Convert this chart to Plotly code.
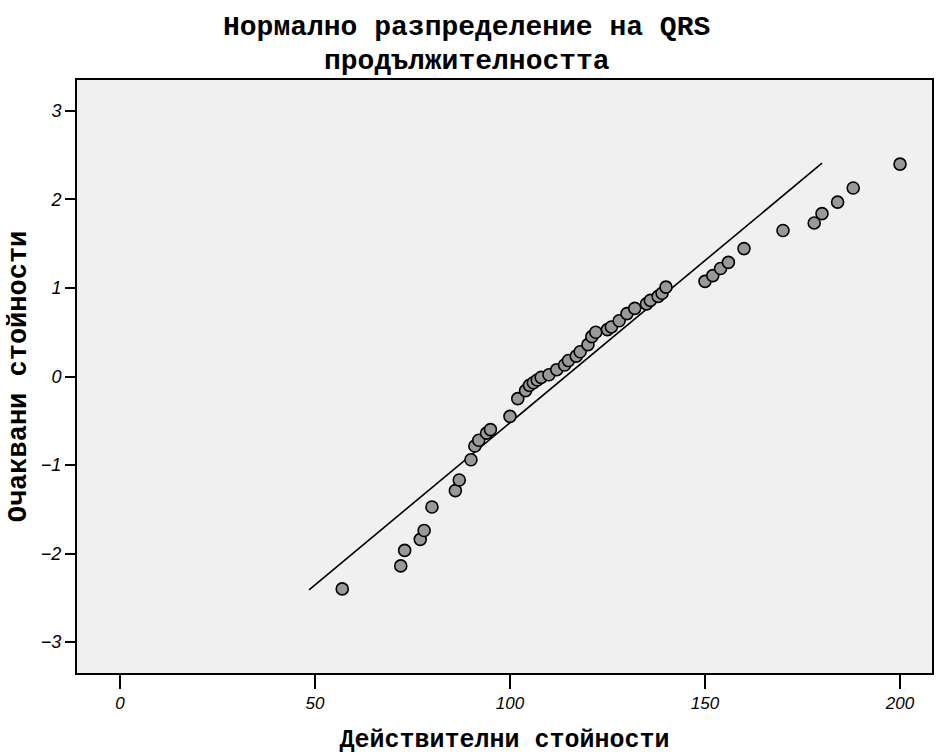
import plotly.graph_objects as go

# Observed QRS durations (x) and expected normal values (y)
observed = [57, 72, 73, 77, 78, 80, 86, 87, 90, 91, 92, 94, 95, 100, 102, 104, 105, 106,
            107, 108, 110, 112, 114, 115, 117, 118, 120, 121, 122, 125, 126, 128, 130, 132,
            135, 136, 138, 139, 140, 150, 152, 154, 156, 160, 170, 178, 180, 184, 188, 200]
expected = [-2.40, -2.14, -1.965, -1.84, -1.74, -1.475, -1.29, -1.17, -0.94, -0.785, -0.72,
            -0.64, -0.60, -0.45, -0.25, -0.16, -0.10, -0.07, -0.04, -0.01, 0.02, 0.077, 0.13,
            0.18, 0.23, 0.28, 0.36, 0.45, 0.50, 0.53, 0.56, 0.63, 0.71, 0.77, 0.82, 0.86,
            0.905, 0.94, 1.01, 1.075, 1.14, 1.22, 1.29, 1.445, 1.65, 1.735, 1.84, 1.97,
            2.13, 2.40]

# Reference normal line endpoints
line_x = [48.5, 180.0]
line_y = [-2.41, 2.41]

x_ticks = [0, 50, 100, 150, 200]
y_ticks = [-3, -2, -1, 0, 1, 2, 3]

title_lines = ["Нормално разпределение на QRS", "продължителността"]
x_title = "Действителни стойности"
y_title = "Очаквани стойности"

mono = "Liberation Mono"
sans = "Liberation Sans"

fig = go.Figure()
fig.add_trace(go.Scatter(x=line_x, y=line_y, mode="lines",
                         line=dict(color="black", width=1.6), hoverinfo="skip",
                         showlegend=False))
fig.add_trace(go.Scatter(x=observed, y=expected, mode="markers",
                         marker=dict(size=12, color="#999999",
                                     line=dict(color="black", width=1.6)),
                         showlegend=False))

for text, yp in zip(title_lines, [1.088, 1.032]):
    fig.add_annotation(text=text, xref="paper", yref="paper", x=0.5 - 38 / 857, y=yp,
                       xanchor="center", yanchor="middle", showarrow=False,
                       font=dict(family=mono, size=28, color="black", weight="bold"))

fig.update_layout(
    width=936, height=755,
    margin=dict(l=77, r=2, t=80, b=82),
    paper_bgcolor="white",
    plot_bgcolor="#F0F0F0",
    xaxis=dict(range=[-11, 208.2], tickvals=x_ticks, ticks="outside", ticklen=14,
               tickwidth=1.5, tickcolor="black", showgrid=False, zeroline=False,
               showline=True, linecolor="black", linewidth=2, mirror=True,
               tickfont=dict(family=sans, size=17, color="black", style="italic"),
               title=dict(text=x_title, standoff=18,
                          font=dict(family=mono, size=25, color="black", weight="bold"))),
    yaxis=dict(range=[-3.35, 3.35], tickvals=y_ticks, ticks="outside", ticklen=10,
               tickwidth=1.5, tickcolor="black", showgrid=False, zeroline=False,
               showline=True, linecolor="black", linewidth=2, mirror=True,
               tickfont=dict(family=sans, size=18, color="black", style="italic"),
               title=dict(text=y_title, standoff=6,
                          font=dict(family=mono, size=27, color="black", weight="bold"))),
)

fig.write_html("out.html")
